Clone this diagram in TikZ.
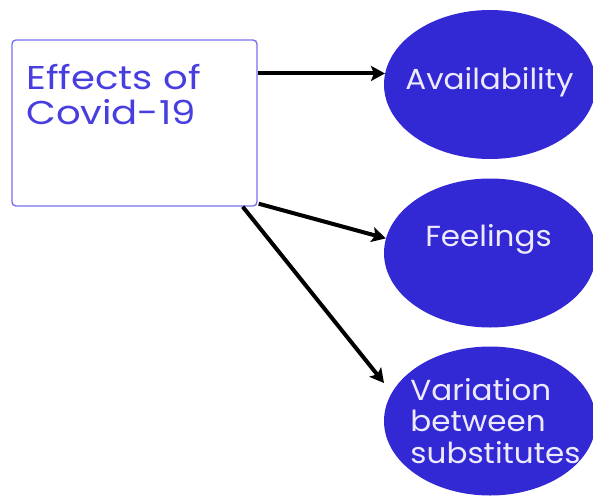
\documentclass[tikz,border=0pt]{standalone}
\usepackage{fontspec}
\setmainfont{Poppins}[FakeStretch=1.07]
\newfontfamily\boxfont{Poppins}[FakeStretch=1.17]
\usetikzlibrary{shapes.geometric,arrows.meta}
\definecolor{ellfill}{RGB}{50,40,212}
\definecolor{boxline}{RGB}{120,112,238}
\definecolor{boxtxt}{RGB}{72,62,224}
\definecolor{elltxt}{RGB}{236,234,252}
\tikzset{
  mainbox/.style={draw=boxline, line width=1.4pt, rounded corners=4pt, minimum width=245pt, minimum height=166pt, inner sep=0pt},
  bubble/.style={ellipse, fill=ellfill, minimum width=212pt, minimum height=149pt, inner sep=0pt},
  bubtext/.style={text=elltxt, font=\fontsize{29}{31.5}\selectfont, inner sep=0pt, align=left},
  arr/.style={line width=4pt, -{Stealth[length=14pt,width=15pt,inset=3pt]}}
}
\begin{document}
\begin{tikzpicture}[x=1pt,y=-1pt]
\useasboundingbox (0,0) rectangle (593,495);
\node[mainbox] (box) at (134.5,123) {};
\node[anchor=north west, inner sep=0pt, align=left, text=boxtxt, font=\boxfont\fontsize{33}{35}\selectfont] (boxtext) at (26,64) {Effects of\\Covid-19};
\node[bubble] (e1) at (490,84.5) {};
\node[bubble] (e2) at (490,253) {};
\node[bubble] (e3) at (490,421) {};
\node[bubtext] (t1) at (489.5,82) {Availability};
\node[bubtext] (t2) at (488.5,239) {Feelings};
\node[bubtext] (t3) at (495.5,421) {Variation\\between\\substitutes};
\coordinate (tip3) at (384,383);
\draw[arr] (box.east |- e1.174) -- (e1.174);
\draw[arr] ([xshift=1pt,yshift=3pt]box.south east) -- (e2.172);
\draw[arr] ([xshift=-15pt]box.south east) -- (tip3);
\end{tikzpicture}
\end{document}
